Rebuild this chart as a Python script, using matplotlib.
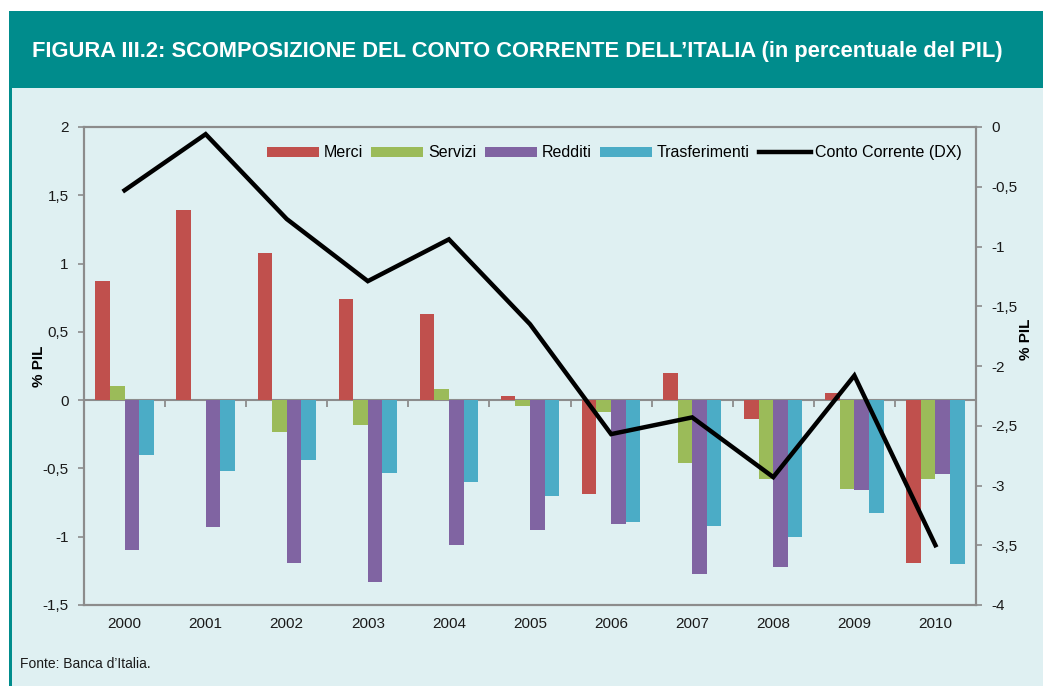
import matplotlib
matplotlib.use("Agg")
import matplotlib.pyplot as plt
from matplotlib.patches import Rectangle
from matplotlib.ticker import FuncFormatter
from matplotlib.markers import TICKDOWN
import numpy as np

# data (% of GDP)
years = ['2000', '2001', '2002', '2003', '2004', '2005', '2006', '2007', '2008', '2009', '2010']
merci = [0.87, 1.39, 1.08, 0.74, 0.63, 0.03, -0.69, 0.20, -0.14, 0.05, -1.19]
servizi = [0.10, 0.00, -0.23, -0.18, 0.08, -0.04, -0.09, -0.46, -0.58, -0.65, -0.58]
redditi = [-1.10, -0.93, -1.19, -1.33, -1.06, -0.95, -0.91, -1.27, -1.22, -0.66, -0.54]
trasferimenti = [-0.40, -0.52, -0.44, -0.53, -0.60, -0.70, -0.89, -0.92, -1.00, -0.83, -1.20]
conto_corrente = [-0.53, -0.06, -0.77, -1.29, -0.94, -1.65, -2.57, -2.43, -2.93, -2.08, -3.50]

series_names = ['Merci', 'Servizi', 'Redditi', 'Trasferimenti']
series_colors = ['#C0504D', '#9BBB59', '#8064A2', '#4BACC6']

TEAL = '#008C8C'
PANEL = '#DFF0F2'
GRID = '#8C8C8C'
TXT = '#1a1a1a'

plt.rcParams['font.family'] = ['Liberation Sans', 'DejaVu Sans']

W, H = 1043, 686
fig = plt.figure(figsize=(W / 100, H / 100), dpi=100)
fig.patch.set_facecolor('white')

# header band, panel and left border (behind the axes)
fig.patches.append(Rectangle((9 / W, 0), 1 - 9 / W, 1 - 88 / H, transform=fig.transFigure,
                             facecolor=PANEL, edgecolor='none', zorder=-3))
fig.patches.append(Rectangle((9 / W, 0), 2.5 / W, 1 - 88 / H, transform=fig.transFigure,
                             facecolor=TEAL, edgecolor='none', zorder=-2))
fig.patches.append(Rectangle((9 / W, 1 - 88 / H), 1 - 9 / W, 77 / H, transform=fig.transFigure,
                             facecolor=TEAL, edgecolor='none', zorder=-2))

title = fig.text(32 / W, 1 - 51 / H,
                 'FIGURA III.2: SCOMPOSIZIONE DEL CONTO CORRENTE DELL\u2019ITALIA (in percentuale del PIL)',
                 color='white', fontweight='bold', fontsize=15, ha='left', va='center',
                 family=['Liberation Sans Narrow', 'DejaVu Sans Condensed', 'Liberation Sans'])
# shrink the title so it spans the same width as in the reference
fig.canvas.draw()
bb = title.get_window_extent()
title.set_fontsize(15 * 973 / bb.width)

ax = fig.add_axes([84 / W, 1 - 605 / H, (976 - 84) / W, (605 - 127) / H])
ax.set_facecolor('none')
ax2 = ax.twinx()
ax2.set_facecolor('none')

x = np.arange(len(years))
bw = 0.18
for i, (vals, name, col) in enumerate(zip([merci, servizi, redditi, trasferimenti],
                                          series_names, series_colors)):
    ax.bar(x + (i - 1.5) * bw, vals, width=bw, color=col, label=name, zorder=2)

ax2.plot(x, conto_corrente, color='black', lw=3.2, label='Conto Corrente (DX)',
         solid_joinstyle='miter', zorder=3)

ax.set_xlim(-0.5, len(years) - 0.5)
ax.set_ylim(-1.5, 2)
ax2.set_ylim(-4, 0)
ax.set_yticks(np.arange(-1.5, 2.01, 0.5))
ax2.set_yticks(np.arange(-4, 0.01, 0.5))

fmt = FuncFormatter(lambda v, p: ('%g' % v).replace('.', ',') if abs(v) > 1e-9 else '0')
ax.yaxis.set_major_formatter(fmt)
ax2.yaxis.set_major_formatter(fmt)

ax.set_xticks(x)
ax.set_xticklabels(years)
ax.tick_params(axis='x', length=0, pad=9, labelsize=11, colors=TXT)
ax.tick_params(axis='y', length=4, width=1.2, pad=7, labelsize=11, color=GRID, labelcolor=TXT)
ax2.tick_params(axis='y', length=4, width=1.2, pad=7, labelsize=11, color=GRID, labelcolor=TXT)

for a in (ax, ax2):
    for s in a.spines.values():
        s.set_color(GRID)
        s.set_linewidth(1.5)

# category axis along zero, with small tick marks between the year groups
ax.axhline(0, color=GRID, lw=1.5, zorder=1)
ax.plot(x[:-1] + 0.5, np.zeros(len(years) - 1), ls='none', marker=TICKDOWN, ms=5, mew=1.3,
        color=GRID, zorder=1)

ax.set_ylabel('% PIL', fontweight='bold', fontsize=11)
ax.yaxis.set_label_coords(-0.043, 0.5)
ax2.set_ylabel('% PIL', fontweight='bold', fontsize=11, rotation=90)
ax2.yaxis.set_label_coords(1.048, 0.556)

h1, l1 = ax.get_legend_handles_labels()
h2, l2 = ax2.get_legend_handles_labels()
leg = ax2.legend(h1 + h2, l1 + l2, loc='upper right', bbox_to_anchor=(0.997, 0.985), ncol=5,
                 frameon=False, fontsize=11.5, handlelength=3.25, handleheight=0.6,
                 handletextpad=0.3, columnspacing=0.55, borderpad=0.2)

fig.text(20 / W, 1 - 664 / H, 'Fonte: Banca d\u2019Italia.', fontsize=10, va='center', ha='left',
         color=TXT)

fig.savefig('out.png', dpi=100, facecolor=fig.get_facecolor())
